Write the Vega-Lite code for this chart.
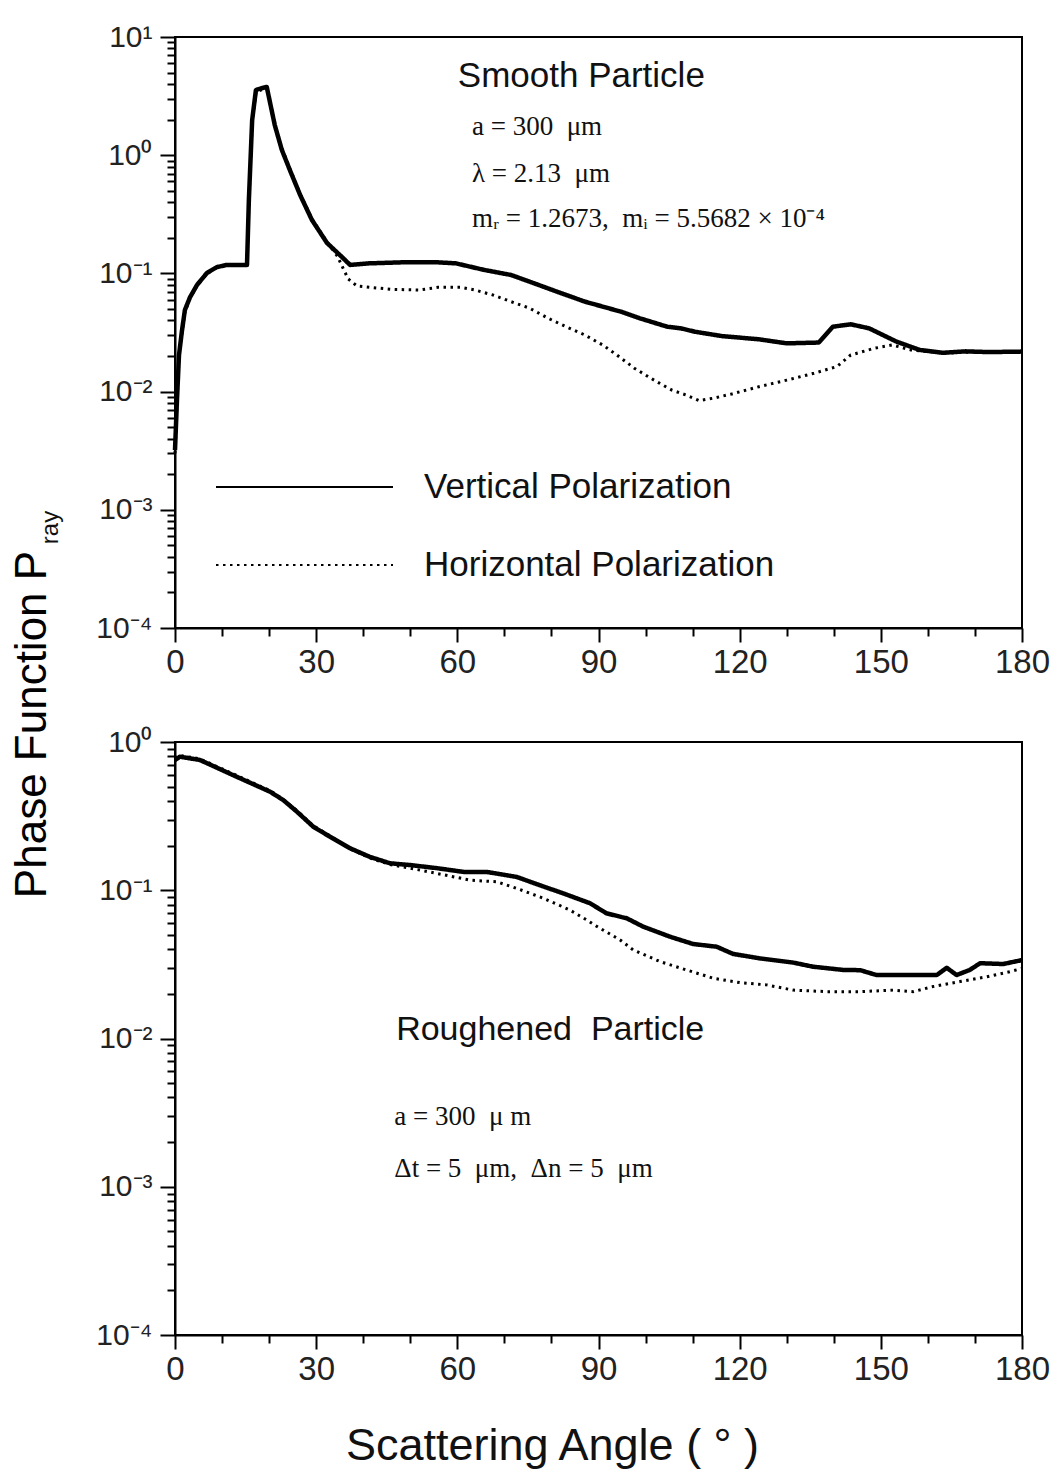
{
  "$schema": "https://vega.github.io/schema/vega-lite/v6.json",
  "background": "white",
  "padding": {"left": 8, "top": 21, "right": 5, "bottom": 0},
  "config": {
    "font": "Liberation Sans",
    "view": {"stroke": "black", "strokeWidth": 2},
    "axis": {"domainColor": "black", "domainWidth": 2, "tickColor": "black", "tickWidth": 2, "grid": false, "labelColor": "#222", "labelFont": "Liberation Sans", "titleFont": "Liberation Sans", "titleFontWeight": "normal", "titleColor": "#111", "labelOverlap": false, "labelFlush": false}
  },
  "datasets": {
    "phase": [
      {"panel":"smooth","pol":"V","angle":0,"value":0.0032},{"panel":"smooth","pol":"V","angle":0.42,"value":0.0085},{"panel":"smooth","pol":"V","angle":0.85,"value":0.0204},{"panel":"smooth","pol":"V","angle":1.5,"value":0.0332},{"panel":"smooth","pol":"V","angle":2.1,"value":0.049},{"panel":"smooth","pol":"V","angle":3.2,"value":0.063},{"panel":"smooth","pol":"V","angle":4.7,"value":0.08},{"panel":"smooth","pol":"V","angle":6.8,"value":0.101},{"panel":"smooth","pol":"V","angle":8.9,"value":0.113},{"panel":"smooth","pol":"V","angle":11.0,"value":0.118},{"panel":"smooth","pol":"V","angle":15.3,"value":0.118},{"panel":"smooth","pol":"V","angle":15.7,"value":0.42},{"panel":"smooth","pol":"V","angle":16.4,"value":1.99},{"panel":"smooth","pol":"V","angle":17.2,"value":3.56},{"panel":"smooth","pol":"V","angle":18.5,"value":3.7},{"panel":"smooth","pol":"V","angle":19.5,"value":3.78},{"panel":"smooth","pol":"V","angle":21.2,"value":1.8},{"panel":"smooth","pol":"V","angle":22.7,"value":1.11},{"panel":"smooth","pol":"V","angle":24.4,"value":0.75},{"panel":"smooth","pol":"V","angle":26.6,"value":0.46},{"panel":"smooth","pol":"V","angle":29.1,"value":0.283},{"panel":"smooth","pol":"V","angle":32.3,"value":0.181},{"panel":"smooth","pol":"V","angle":35.7,"value":0.135},{"panel":"smooth","pol":"V","angle":37.2,"value":0.118},{"panel":"smooth","pol":"V","angle":41.2,"value":0.1216},{"panel":"smooth","pol":"V","angle":48.0,"value":0.124},{"panel":"smooth","pol":"V","angle":55.9,"value":0.124},{"panel":"smooth","pol":"V","angle":59.7,"value":0.1216},{"panel":"smooth","pol":"V","angle":65.7,"value":0.107},{"panel":"smooth","pol":"V","angle":71.4,"value":0.097},{"panel":"smooth","pol":"V","angle":75.4,"value":0.085},{"panel":"smooth","pol":"V","angle":81.2,"value":0.07},{"panel":"smooth","pol":"V","angle":87.1,"value":0.0577},{"panel":"smooth","pol":"V","angle":94.8,"value":0.0474},{"panel":"smooth","pol":"V","angle":98.8,"value":0.0417},{"panel":"smooth","pol":"V","angle":104.6,"value":0.0354},{"panel":"smooth","pol":"V","angle":107.5,"value":0.0343},{"panel":"smooth","pol":"V","angle":110.5,"value":0.0321},{"panel":"smooth","pol":"V","angle":116.2,"value":0.0295},{"panel":"smooth","pol":"V","angle":124.1,"value":0.0277},{"panel":"smooth","pol":"V","angle":130.0,"value":0.0256},{"panel":"smooth","pol":"V","angle":136.8,"value":0.026},{"panel":"smooth","pol":"V","angle":139.8,"value":0.0354},{"panel":"smooth","pol":"V","angle":143.6,"value":0.0371},{"panel":"smooth","pol":"V","angle":147.5,"value":0.0343},{"panel":"smooth","pol":"V","angle":153.4,"value":0.0264},{"panel":"smooth","pol":"V","angle":158.3,"value":0.0225},{"panel":"smooth","pol":"V","angle":163.2,"value":0.0213},{"panel":"smooth","pol":"V","angle":168.0,"value":0.0219},{"panel":"smooth","pol":"V","angle":173.0,"value":0.0216},{"panel":"smooth","pol":"V","angle":180,"value":0.0218},
      {"panel":"smooth","pol":"H","angle":0,"value":0.003},{"panel":"smooth","pol":"H","angle":0.42,"value":0.008},{"panel":"smooth","pol":"H","angle":0.85,"value":0.0195},{"panel":"smooth","pol":"H","angle":1.5,"value":0.032},{"panel":"smooth","pol":"H","angle":2.1,"value":0.047},{"panel":"smooth","pol":"H","angle":3.2,"value":0.062},{"panel":"smooth","pol":"H","angle":4.7,"value":0.079},{"panel":"smooth","pol":"H","angle":6.8,"value":0.1},{"panel":"smooth","pol":"H","angle":8.9,"value":0.112},{"panel":"smooth","pol":"H","angle":11.0,"value":0.117},{"panel":"smooth","pol":"H","angle":15.3,"value":0.117},{"panel":"smooth","pol":"H","angle":15.7,"value":0.4},{"panel":"smooth","pol":"H","angle":16.4,"value":1.9},{"panel":"smooth","pol":"H","angle":17.2,"value":3.4},{"panel":"smooth","pol":"H","angle":18.5,"value":3.6},{"panel":"smooth","pol":"H","angle":19.5,"value":3.7},{"panel":"smooth","pol":"H","angle":21.2,"value":1.85},{"panel":"smooth","pol":"H","angle":22.7,"value":1.15},{"panel":"smooth","pol":"H","angle":24.4,"value":0.77},{"panel":"smooth","pol":"H","angle":26.6,"value":0.47},{"panel":"smooth","pol":"H","angle":29.1,"value":0.29},{"panel":"smooth","pol":"H","angle":32.3,"value":0.185},{"panel":"smooth","pol":"H","angle":34.5,"value":0.14},{"panel":"smooth","pol":"H","angle":35.7,"value":0.111},{"panel":"smooth","pol":"H","angle":36.8,"value":0.0898},{"panel":"smooth","pol":"H","angle":38.7,"value":0.0781},{"panel":"smooth","pol":"H","angle":41.4,"value":0.0762},{"panel":"smooth","pol":"H","angle":46.1,"value":0.0733},{"panel":"smooth","pol":"H","angle":51.9,"value":0.0724},{"panel":"smooth","pol":"H","angle":55.9,"value":0.0762},{"panel":"smooth","pol":"H","angle":60.8,"value":0.0762},{"panel":"smooth","pol":"H","angle":63.7,"value":0.0724},{"panel":"smooth","pol":"H","angle":67.6,"value":0.0656},{"panel":"smooth","pol":"H","angle":71.4,"value":0.0577},{"panel":"smooth","pol":"H","angle":75.4,"value":0.0507},{"panel":"smooth","pol":"H","angle":79.3,"value":0.0417},{"panel":"smooth","pol":"H","angle":83.1,"value":0.0354},{"panel":"smooth","pol":"H","angle":87.1,"value":0.0301},{"panel":"smooth","pol":"H","angle":90.9,"value":0.0248},{"panel":"smooth","pol":"H","angle":93.9,"value":0.0204},{"panel":"smooth","pol":"H","angle":97.7,"value":0.0157},{"panel":"smooth","pol":"H","angle":101.8,"value":0.0125},{"panel":"smooth","pol":"H","angle":105.6,"value":0.0103},{"panel":"smooth","pol":"H","angle":108.6,"value":0.00936},{"panel":"smooth","pol":"H","angle":111.4,"value":0.00838},{"panel":"smooth","pol":"H","angle":114.3,"value":0.00878},{"panel":"smooth","pol":"H","angle":118.3,"value":0.00955},{"panel":"smooth","pol":"H","angle":124.1,"value":0.011},{"panel":"smooth","pol":"H","angle":130.0,"value":0.0125},{"panel":"smooth","pol":"H","angle":135.8,"value":0.0143},{"panel":"smooth","pol":"H","angle":140.7,"value":0.0163},{"panel":"smooth","pol":"H","angle":143.6,"value":0.0204},{"panel":"smooth","pol":"H","angle":148.5,"value":0.0232},{"panel":"smooth","pol":"H","angle":152.4,"value":0.0248},{"panel":"smooth","pol":"H","angle":156.4,"value":0.0225},{"panel":"smooth","pol":"H","angle":163.2,"value":0.0212},{"panel":"smooth","pol":"H","angle":170,"value":0.0216},{"panel":"smooth","pol":"H","angle":180,"value":0.0216},
      {"panel":"rough","pol":"V","angle":0,"value":0.756},{"panel":"rough","pol":"V","angle":1.06,"value":0.796},{"panel":"rough","pol":"V","angle":5.3,"value":0.756},{"panel":"rough","pol":"V","angle":13.1,"value":0.583},{"panel":"rough","pol":"V","angle":20.2,"value":0.462},{"panel":"rough","pol":"V","angle":23.0,"value":0.406},{"panel":"rough","pol":"V","angle":25.9,"value":0.339},{"panel":"rough","pol":"V","angle":29.4,"value":0.268},{"panel":"rough","pol":"V","angle":32.9,"value":0.23},{"panel":"rough","pol":"V","angle":37.2,"value":0.192},{"panel":"rough","pol":"V","angle":41.4,"value":0.168},{"panel":"rough","pol":"V","angle":45.7,"value":0.152},{"panel":"rough","pol":"V","angle":49.9,"value":0.148},{"panel":"rough","pol":"V","angle":55.6,"value":0.141},{"panel":"rough","pol":"V","angle":61.3,"value":0.133},{"panel":"rough","pol":"V","angle":66.2,"value":0.133},{"panel":"rough","pol":"V","angle":72.6,"value":0.123},{"panel":"rough","pol":"V","angle":78.3,"value":0.106},{"panel":"rough","pol":"V","angle":82.5,"value":0.0953},{"panel":"rough","pol":"V","angle":88.2,"value":0.0817},{"panel":"rough","pol":"V","angle":91.7,"value":0.0699},{"panel":"rough","pol":"V","angle":96.0,"value":0.0647},{"panel":"rough","pol":"V","angle":99.5,"value":0.0568},{"panel":"rough","pol":"V","angle":105.2,"value":0.0486},{"panel":"rough","pol":"V","angle":110.1,"value":0.0434},{"panel":"rough","pol":"V","angle":115.1,"value":0.0416},{"panel":"rough","pol":"V","angle":118.6,"value":0.0372},{"panel":"rough","pol":"V","angle":124.3,"value":0.0347},{"panel":"rough","pol":"V","angle":131.4,"value":0.0325},{"panel":"rough","pol":"V","angle":135.6,"value":0.0305},{"panel":"rough","pol":"V","angle":142.0,"value":0.029},{"panel":"rough","pol":"V","angle":145.6,"value":0.0289},{"panel":"rough","pol":"V","angle":149.1,"value":0.0268},{"panel":"rough","pol":"V","angle":156.2,"value":0.0268},{"panel":"rough","pol":"V","angle":161.9,"value":0.0268},{"panel":"rough","pol":"V","angle":164.0,"value":0.03},{"panel":"rough","pol":"V","angle":166.1,"value":0.0268},{"panel":"rough","pol":"V","angle":168.9,"value":0.029},{"panel":"rough","pol":"V","angle":171.1,"value":0.0322},{"panel":"rough","pol":"V","angle":176.0,"value":0.0318},{"panel":"rough","pol":"V","angle":180,"value":0.0338},
      {"panel":"rough","pol":"H","angle":0,"value":0.78},{"panel":"rough","pol":"H","angle":1.06,"value":0.81},{"panel":"rough","pol":"H","angle":5.3,"value":0.77},{"panel":"rough","pol":"H","angle":13.1,"value":0.595},{"panel":"rough","pol":"H","angle":20.2,"value":0.47},{"panel":"rough","pol":"H","angle":23.0,"value":0.41},{"panel":"rough","pol":"H","angle":25.9,"value":0.345},{"panel":"rough","pol":"H","angle":29.4,"value":0.272},{"panel":"rough","pol":"H","angle":32.9,"value":0.233},{"panel":"rough","pol":"H","angle":37.2,"value":0.19},{"panel":"rough","pol":"H","angle":41.4,"value":0.165},{"panel":"rough","pol":"H","angle":45.7,"value":0.149},{"panel":"rough","pol":"H","angle":49.9,"value":0.141},{"panel":"rough","pol":"H","angle":55.6,"value":0.13},{"panel":"rough","pol":"H","angle":62.7,"value":0.117},{"panel":"rough","pol":"H","angle":68.4,"value":0.114},{"panel":"rough","pol":"H","angle":72.6,"value":0.103},{"panel":"rough","pol":"H","angle":78.3,"value":0.0883},{"panel":"rough","pol":"H","angle":83.9,"value":0.0736},{"panel":"rough","pol":"H","angle":87.5,"value":0.063},{"panel":"rough","pol":"H","angle":90.3,"value":0.0554},{"panel":"rough","pol":"H","angle":94.6,"value":0.0462},{"panel":"rough","pol":"H","angle":97.4,"value":0.0395},{"panel":"rough","pol":"H","angle":103.1,"value":0.033},{"panel":"rough","pol":"H","angle":108.7,"value":0.029},{"panel":"rough","pol":"H","angle":114.4,"value":0.0255},{"panel":"rough","pol":"H","angle":120.1,"value":0.0238},{"panel":"rough","pol":"H","angle":125.7,"value":0.023},{"panel":"rough","pol":"H","angle":131.4,"value":0.0212},{"panel":"rough","pol":"H","angle":138.5,"value":0.0207},{"panel":"rough","pol":"H","angle":145.6,"value":0.0207},{"panel":"rough","pol":"H","angle":152.6,"value":0.0212},{"panel":"rough","pol":"H","angle":156.9,"value":0.0207},{"panel":"rough","pol":"H","angle":161.1,"value":0.0224},{"panel":"rough","pol":"H","angle":166.8,"value":0.0242},{"panel":"rough","pol":"H","angle":172.5,"value":0.0261},{"panel":"rough","pol":"H","angle":177.4,"value":0.0282},{"panel":"rough","pol":"H","angle":180,"value":0.0297}
    ]
  },
  "spacing": 114,
  "bounds": "flush",
  "resolve": {"legend": {"strokeDash": "independent"}},
  "vconcat": [
    {
      "width": 847,
      "height": 591,
      "layer": [
        {
          "data": {"name": "phase"},
          "transform": [{"filter": "datum.panel == 'smooth'"}],
          "mark": {"type": "line", "color": "black", "strokeJoin": "round"},
          "encoding": {
            "x": {"field": "angle", "type": "quantitative", "scale": {"domain": [0, 180], "nice": false},
              "axis": {"values": [0,10,20,30,40,50,60,70,80,90,100,110,120,130,140,150,160,170,180], "labelExpr": "datum.value % 30 == 0 ? datum.label : ''", "tickSize": {"condition": {"test": "datum.value % 30 == 0", "value": 14}, "value": 8}, "labelFontSize": 33, "labelPadding": 4, "title": null}},
            "y": {"field": "value", "type": "quantitative", "scale": {"type": "log", "domain": [0.0001, 10], "nice": false},
              "axis": {"values": [0.0001,0.0002,0.0003,0.0004,0.0005,0.0006,0.0007,0.0008,0.0009,0.001,0.002,0.003,0.004,0.005,0.006,0.007,0.008,0.009,0.01,0.02,0.03,0.04,0.05,0.06,0.07,0.08,0.09,0.1,0.2,0.3,0.4,0.5,0.6,0.7,0.8,0.9,1,2,3,4,5,6,7,8,9,10],
                "labelExpr": "abs(log(datum.value)/LN10 - round(log(datum.value)/LN10)) < 0.001 ? '10' + (round(log(datum.value)/LN10) == 1 ? '¹' : round(log(datum.value)/LN10) == 0 ? '⁰' : round(log(datum.value)/LN10) == -1 ? '⁻¹' : round(log(datum.value)/LN10) == -2 ? '⁻²' : round(log(datum.value)/LN10) == -3 ? '⁻³' : '⁻⁴') : ''",
                "tickSize": {"condition": {"test": "abs(log(datum.value)/LN10 - round(log(datum.value)/LN10)) < 0.001", "value": 15}, "value": 8},
                "labelFontSize": 30, "labelPadding": 8,
                "title": "ray", "titleFontSize": 24, "titleX": -118, "titleY": 490, "titleAngle": 270, "titleAlign": "center", "titleBaseline": "alphabetic"}},
            "strokeDash": {"field": "pol", "type": "nominal", "scale": {"domain": ["V", "H"], "range": [[1, 0], [2.5, 4.5]]},
              "legend": {"orient": "none", "legendX": 40, "legendY": 430, "title": null, "symbolType": "stroke", "symbolSize": 31329, "symbolStrokeWidth": 2, "symbolStrokeColor": "black", "clipHeight": 40, "rowPadding": 38, "labelFontSize": 35, "labelOffset": 30, "labelColor": "#111", "labelLimit": 0, "labelExpr": "datum.value == 'V' ? 'Vertical Polarization' : 'Horizontal Polarization'"}},
            "strokeWidth": {"field": "pol", "type": "nominal", "scale": {"domain": ["V", "H"], "range": [4.5, 3]}, "legend": null}
          }
        },
        {
          "data": {"values": [{}]},
          "mark": {"type": "text", "text": "Smooth Particle", "align": "left", "baseline": "alphabetic", "fontSize": 35, "font": "Liberation Sans", "color": "#111"},
          "encoding": {"x": {"datum": 60.1, "type": "quantitative"}, "y": {"datum": 3.8, "type": "quantitative"}}
        },
        {
          "data": {"values": [{}]},
          "mark": {"type": "text", "text": "a = 300\u00a0\u00a0μm", "align": "left", "baseline": "alphabetic", "fontSize": 27, "font": "Liberation Serif", "color": "#111"},
          "encoding": {"x": {"datum": 63.1, "type": "quantitative"}, "y": {"datum": 1.48, "type": "quantitative"}}
        },
        {
          "data": {"values": [{}]},
          "mark": {"type": "text", "text": "λ = 2.13\u00a0\u00a0μm", "align": "left", "baseline": "alphabetic", "fontSize": 27, "font": "Liberation Serif", "color": "#111"},
          "encoding": {"x": {"datum": 63.1, "type": "quantitative"}, "y": {"datum": 0.597, "type": "quantitative"}}
        },
        {
          "data": {"values": [{}]},
          "mark": {"type": "text", "text": "mᵣ = 1.2673,\u00a0\u00a0mᵢ = 5.5682 × 10⁻⁴", "align": "left", "baseline": "alphabetic", "fontSize": 27, "font": "Liberation Serif", "color": "#111"},
          "encoding": {"x": {"datum": 63.1, "type": "quantitative"}, "y": {"datum": 0.248, "type": "quantitative"}}
        }
      ]
    },
    {
      "width": 847,
      "height": 593,
      "layer": [
        {
          "data": {"name": "phase"},
          "transform": [{"filter": "datum.panel == 'rough'"}],
          "mark": {"type": "line", "color": "black", "strokeJoin": "round"},
          "encoding": {
            "x": {"field": "angle", "type": "quantitative", "scale": {"domain": [0, 180], "nice": false},
              "axis": {"values": [0,10,20,30,40,50,60,70,80,90,100,110,120,130,140,150,160,170,180], "labelExpr": "datum.value % 30 == 0 ? datum.label : ''", "tickSize": {"condition": {"test": "datum.value % 30 == 0", "value": 14}, "value": 8}, "labelFontSize": 33, "labelPadding": 4,
                "title": "Scattering Angle (\u00a0°\u00a0)", "titleFontSize": 45, "titleX": 377, "titleY": 124, "titleAlign": "center", "titleBaseline": "alphabetic", "titleColor": "#111"}},
            "y": {"field": "value", "type": "quantitative", "scale": {"type": "log", "domain": [0.0001, 1], "nice": false},
              "axis": {"values": [0.0001,0.0002,0.0003,0.0004,0.0005,0.0006,0.0007,0.0008,0.0009,0.001,0.002,0.003,0.004,0.005,0.006,0.007,0.008,0.009,0.01,0.02,0.03,0.04,0.05,0.06,0.07,0.08,0.09,0.1,0.2,0.3,0.4,0.5,0.6,0.7,0.8,0.9,1],
                "labelExpr": "abs(log(datum.value)/LN10 - round(log(datum.value)/LN10)) < 0.001 ? '10' + (round(log(datum.value)/LN10) == 1 ? '¹' : round(log(datum.value)/LN10) == 0 ? '⁰' : round(log(datum.value)/LN10) == -1 ? '⁻¹' : round(log(datum.value)/LN10) == -2 ? '⁻²' : round(log(datum.value)/LN10) == -3 ? '⁻³' : '⁻⁴') : ''",
                "tickSize": {"condition": {"test": "abs(log(datum.value)/LN10 - round(log(datum.value)/LN10)) < 0.001", "value": 15}, "value": 8},
                "labelFontSize": 30, "labelPadding": 8,
                "title": "Phase Function P", "titleFontSize": 44, "titleX": -130, "titleY": -18, "titleAngle": 270, "titleAlign": "center", "titleBaseline": "alphabetic", "titleColor": "#000"}},
            "strokeDash": {"field": "pol", "type": "nominal", "scale": {"domain": ["V", "H"], "range": [[1, 0], [2.5, 4.5]]}, "legend": null},
            "strokeWidth": {"field": "pol", "type": "nominal", "scale": {"domain": ["V", "H"], "range": [4.5, 3]}, "legend": null}
          }
        },
        {
          "data": {"values": [{}]},
          "mark": {"type": "text", "text": "Roughened\u00a0\u00a0Particle", "align": "left", "baseline": "alphabetic", "fontSize": 34, "font": "Liberation Sans", "color": "#111"},
          "encoding": {"x": {"datum": 47.0, "type": "quantitative"}, "y": {"datum": 0.00977, "type": "quantitative"}}
        },
        {
          "data": {"values": [{}]},
          "mark": {"type": "text", "text": "a = 300\u00a0\u00a0μ m", "align": "left", "baseline": "alphabetic", "fontSize": 27, "font": "Liberation Serif", "color": "#111"},
          "encoding": {"x": {"datum": 46.6, "type": "quantitative"}, "y": {"datum": 0.00261, "type": "quantitative"}}
        },
        {
          "data": {"values": [{}]},
          "mark": {"type": "text", "text": "Δt = 5\u00a0\u00a0μm,\u00a0\u00a0Δn = 5\u00a0\u00a0μm", "align": "left", "baseline": "alphabetic", "fontSize": 27, "font": "Liberation Serif", "color": "#111"},
          "encoding": {"x": {"datum": 46.6, "type": "quantitative"}, "y": {"datum": 0.00117, "type": "quantitative"}}
        }
      ]
    }
  ]
}
